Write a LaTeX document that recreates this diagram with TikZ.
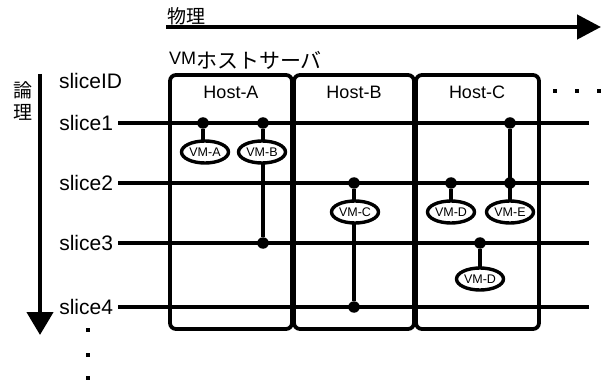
\documentclass[tikz,border=0pt]{standalone}
\usepackage{fontspec}
\setmainfont{Liberation Sans}
\newfontfamily\jp{Noto Sans CJK JP}
\usetikzlibrary{shapes.geometric,arrows.meta}
\begin{document}
\begin{tikzpicture}[x=1pt,y=-1pt,
  every node/.style={inner sep=0pt, outer sep=0pt},
  slicelab/.style={font=\fontsize{21}{21}\selectfont, anchor=east},
  hostlab/.style={font=\fontsize{18}{18}\selectfont},
  jplab/.style={font=\jp\fontsize{19}{19}\selectfont},
  slicewire/.style={line width=4.2pt},
  hostbox/.style={draw, line width=3.8pt, rounded corners=6pt, minimum height=254pt},
  vmnode/.style={draw, ellipse, line width=3.4pt, fill=white, minimum width=47pt, minimum height=22pt, font=\fontsize{12.5}{12.5}\selectfont},
  joint/.style={circle, fill, minimum size=11.5pt},
  stem/.style={line width=3.3pt},
  bigarrow/.style={line width=4.5pt},
  smalldot/.style={fill, minimum size=3.5pt},
]
\useasboundingbox (0,0) rectangle (605,382);

% host boxes
\node[hostbox, minimum width=122pt] (boxA) at (231,202) {};
\node[hostbox, minimum width=120pt] (boxB) at (354,202) {};
\node[hostbox, minimum width=123pt] (boxC) at (477.5,202) {};
\node[hostlab] (hA) at (231,92) {Host-A};
\node[hostlab] (hB) at (354,92) {Host-B};
\node[hostlab] (hC) at (477,92) {Host-C};

% titles
\node[jplab] (phys) at (186,16) {物理};
\node[jplab] (ron) at (23,90) {論};
\node[jplab] (ri) at (23,112) {理};
\node[anchor=base west, font=\fontsize{18}{18}\selectfont] (vmhost) at (169,65) {VM{\jp\fontsize{21}{21}\selectfont\raisebox{-4pt}{ホストサーバ}}};

% arrows
\coordinate (pa) at (166,27);
\coordinate (pb) at (601,27);
\draw[bigarrow, -{Triangle[length=24pt,width=24pt]}] (pa) -- (pb);
\coordinate (la) at (40,74);
\coordinate (lb) at (40,335);
\draw[bigarrow, -{Triangle[length=23pt,width=26pt]}] (la) -- (lb);

% slice labels and wires
\node[font=\fontsize{21}{21}\selectfont, anchor=west] (sid) at (59,81) {sliceID};
\node[slicelab] (s1) at (113,123) {slice1};
\node[slicelab] (s2) at (113,183) {slice2};
\node[slicelab] (s3) at (113,243) {slice3};
\node[slicelab] (s4) at (113,307) {slice4};
\coordinate (e1) at (589,123);
\coordinate (e2) at (589,183);
\coordinate (e3) at (589,243);
\coordinate (e4) at (589,307);
\draw[slicewire] ([xshift=5pt]s1.east) -- (e1);
\draw[slicewire] ([xshift=5pt]s2.east) -- (e2);
\draw[slicewire] ([xshift=5pt]s3.east) -- (e3);
\draw[slicewire] ([xshift=5pt]s4.east) -- (e4);

% joints
\node[joint] (dA) at (203,123) {};
\node[joint] (dB1) at (263,123) {};
\node[joint] (dB3) at (263,243) {};
\node[joint] (dC2) at (354,183) {};
\node[joint] (dC4) at (354,307) {};
\node[joint] (dD2) at (451,183) {};
\node[joint] (dE1) at (510,123) {};
\node[joint] (dE2) at (510,183) {};
\node[joint] (dD3) at (480,243) {};

% stems
\draw[stem] (dA) -- (203,152);
\draw[stem] (dB1) -- (dB3);
\draw[stem] (dC2) -- (dC4);
\draw[stem] (dD2) -- (451,212);
\draw[stem] (dE1) -- (510,212);
\draw[stem] (dD3) -- (480,279);

% VMs
\node[vmnode] (vmA) at (205,152) {VM-A};
\node[vmnode] (vmB) at (262,152) {VM-B};
\node[vmnode] (vmC) at (355,212) {VM-C};
\node[vmnode] (vmD) at (451,212) {VM-D};
\node[vmnode] (vmE) at (510,212) {VM-E};
\node[vmnode] (vmD2) at (480,279) {VM-D};

% ellipsis dots
\node[smalldot] (r1) at (555,91) {};
\node[smalldot] (r2) at (577,91) {};
\node[smalldot] (r3) at (599,91) {};
\node[smalldot] (b1) at (88,330) {};
\node[smalldot] (b2) at (88,355) {};
\node[smalldot] (b3) at (88,378) {};
\end{tikzpicture}
\end{document}
